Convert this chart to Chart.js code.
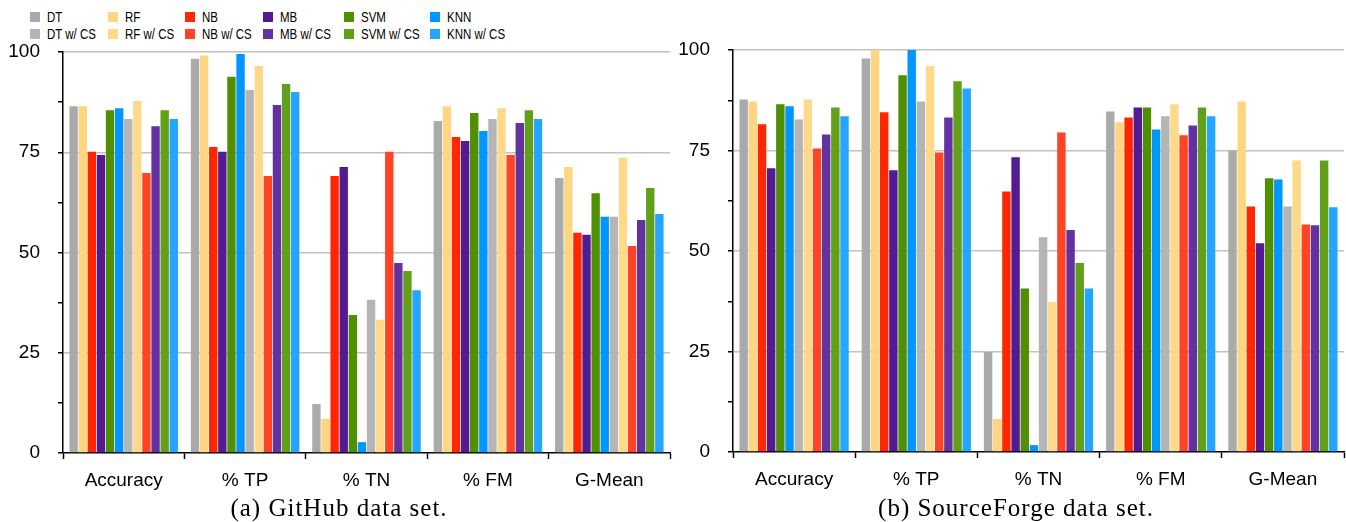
<!DOCTYPE html>
<html>
<head>
<meta charset="utf-8">
<script src="https://cdn.jsdelivr.net/npm/chart.js@4.4.1/dist/chart.umd.min.js"></script>
<style>
  body { margin: 0; background: #fff; width: 1346px; height: 522px; overflow: hidden; position: relative; }
  .panel { position: absolute; top: 0; height: 522px; }
  .item { position: absolute; font-family: "Liberation Sans", Arial, sans-serif; font-size: 14px; line-height: 14px; white-space: nowrap; color: #000; transform: scaleX(0.82); transform-origin: left center; }
  .box { position: absolute; width: 10px; height: 10px; }
  .caption { position: absolute; top: 494px; text-align: center; font-family: "Liberation Serif", serif; font-size: 25px; letter-spacing: 1px; color: #000; }
</style>
</head>
<body>
<div id="legend"></div>
<div class="panel" style="left:0; width:680px;"><canvas id="githubChart"></canvas></div>
<div class="panel" style="left:670px; width:676px;"><canvas id="sfChart"></canvas></div>
<div class="caption" style="left:189px; width:300px;">(a) GitHub data set.</div>
<div class="caption" style="left:856px; width:320px;">(b) SourceForge data set.</div>
<script>
var categories = ['Accuracy', '% TP', '% TN', '% FM', 'G-Mean'];
var seriesNames = ['DT', 'RF', 'NB', 'MB', 'SVM', 'KNN',
    'DT w/ CS', 'RF w/ CS', 'NB w/ CS', 'MB w/ CS', 'SVM w/ CS', 'KNN w/ CS'];
var seriesColors = ['#aaaaaa', '#fed581', '#ff2600', '#531b93', '#4f8f00', '#0096ff',
    '#b5b5b5', '#fed98a', '#ff4326', '#6431a1', '#62a01a', '#24a5ff'];

// GitHub data set
var ghDT = [86.5, 98.3, 12.2, 82.8, 68.6];
var ghRF = [86.5, 99.1, 8.5, 86.5, 71.3];
var ghNB = [75.1, 76.3, 69.1, 78.8, 54.9];
var ghMB = [74.3, 75.1, 71.3, 77.8, 54.4];
var ghSVM = [85.5, 93.8, 34.4, 84.8, 64.8];
var ghKNN = [86.0, 99.5, 2.7, 80.3, 58.9];
var ghDTcs = [83.3, 90.5, 38.2, 83.3, 58.9];
var ghRFcs = [87.8, 96.5, 33.2, 86.0, 73.6];
var ghNBcs = [69.8, 69.1, 75.1, 74.3, 51.6];
var ghMBcs = [81.5, 86.8, 47.4, 82.3, 58.1];
var ghSVMcs = [85.5, 92.0, 45.4, 85.5, 66.1];
var ghKNNcs = [83.3, 90.0, 40.6, 83.3, 59.6];

// SourceForge data set
var sfDT = [87.7, 97.9, 24.9, 84.7, 75.0];
var sfRF = [87.2, 100, 8.2, 82.0, 87.2];
var sfNB = [81.5, 84.5, 64.8, 83.2, 61.1];
var sfMB = [70.6, 70.1, 73.3, 85.7, 51.9];
var sfSVM = [86.5, 93.7, 40.7, 85.7, 68.1];
var sfKNN = [86.0, 100, 1.7, 80.2, 67.8];
var sfDTcs = [82.7, 87.2, 53.4, 83.5, 61.1];
var sfRFcs = [87.7, 96.0, 37.3, 86.5, 72.5];
var sfNBcs = [75.5, 74.5, 79.5, 78.8, 56.6];
var sfMBcs = [79.0, 83.2, 55.2, 81.2, 56.4];
var sfSVMcs = [85.7, 92.2, 47.0, 85.7, 72.5];
var sfKNNcs = [83.5, 90.4, 40.7, 83.5, 60.9];

var yTicks = [0, 25, 50, 75, 100];

var ghSeries = [ghDT, ghRF, ghNB, ghMB, ghSVM, ghKNN, ghDTcs, ghRFcs, ghNBcs, ghMBcs, ghSVMcs, ghKNNcs];
var sfSeries = [sfDT, sfRF, sfNB, sfMB, sfSVM, sfKNN, sfDTcs, sfRFcs, sfNBcs, sfMBcs, sfSVMcs, sfKNNcs];

// legend (html, 6 columns x 2 rows)
var legendX = [30, 108, 185, 263, 344, 430];
var legendY = [12, 29];
var legend = document.getElementById('legend');
seriesNames.forEach(function(name, i) {
    var col = i % 6, row = Math.floor(i / 6);
    var box = document.createElement('div');
    box.className = 'box';
    box.style.left = legendX[col] + 'px';
    box.style.top = legendY[row] + 'px';
    box.style.background = seriesColors[i];
    legend.appendChild(box);
    var txt = document.createElement('div');
    txt.className = 'item';
    txt.style.left = (legendX[col] + 17) + 'px';
    txt.style.top = (legendY[row] - 2) + 'px';
    txt.textContent = name;
    legend.appendChild(txt);
});

Chart.defaults.font.family = '"Liberation Sans", Arial, sans-serif';
Chart.defaults.font.size = 19;
Chart.defaults.color = '#000';

function makeChart(id, series, pad) {
    var datasets = [];
    series.forEach(function(values, i) {
        datasets.push({
            label: seriesNames[i],
            data: values,
            backgroundColor: seriesColors[i],
            borderWidth: 0,
            categoryPercentage: 0.9,
            barPercentage: 0.92
        });
    });
    var ctx = document.getElementById(id).getContext('2d');
    return new Chart(ctx, {
        type: 'bar',
        data: {
            labels: categories,
            datasets: datasets
        },
        options: {
            responsive: true,
            maintainAspectRatio: false,
            animation: false,
            layout: { padding: pad },
            plugins: {
                legend: { display: false },
                tooltip: { enabled: false }
            },
            scales: {
                x: {
                    grid: {
                        drawOnChartArea: false,
                        drawTicks: true,
                        tickLength: 6,
                        tickColor: '#000',
                        tickWidth: 1.5
                    },
                    border: { color: '#000', width: 1.5 },
                    ticks: { padding: pad.xPad },
                    afterFit: function(scale) { scale.height = 40; }
                },
                y: {
                    min: 0,
                    max: 100,
                    ticks: {
                        stepSize: 12.5,
                        padding: 18,
                        callback: function(v) {
                            return yTicks.indexOf(v) >= 0 ? v : '';
                        }
                    },
                    grid: {
                        color: function(c) {
                            return c.tick && yTicks.indexOf(c.tick.value) > 0 ? '#c2c2c2' : 'rgba(0,0,0,0)';
                        },
                        lineWidth: 1.5,
                        tickLength: 5,
                        tickColor: '#000',
                        tickWidth: 1.5
                    },
                    border: { color: '#000', width: 1.5 },
                    afterFit: function(scale) { scale.width = 63; }
                }
            }
        }
    });
}

makeChart('githubChart', ghSeries, { top: 52, right: 10, bottom: 29, left: 0, xPad: 10 });
makeChart('sfChart', sfSeries, { top: 50, right: 2, bottom: 30, left: 0, xPad: 10 });
</script>
</body>
</html>
